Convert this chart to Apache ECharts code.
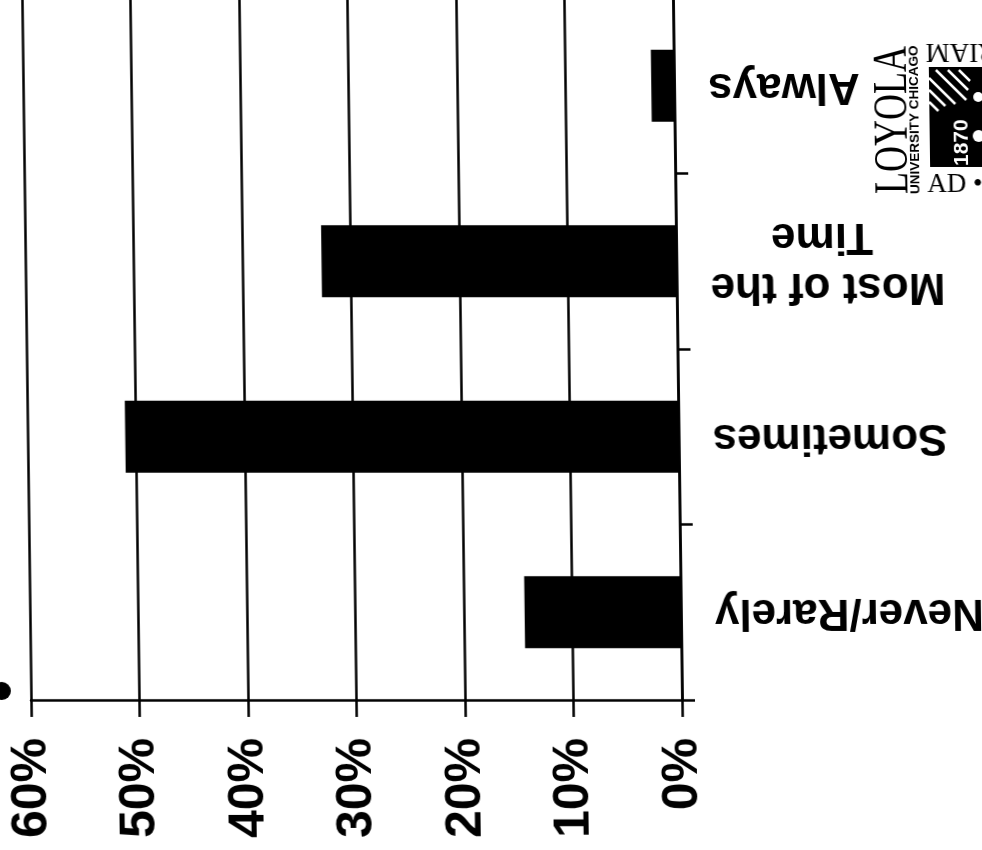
<!DOCTYPE html>
<html>
<head>
<meta charset="utf-8">
<style>
html,body{margin:0;padding:0;background:#fff;width:982px;height:850px;overflow:hidden}
#c{position:absolute;left:0;top:-10px;width:1000px;height:860px;transform-origin:0 710px;transform:skewX(0.74deg)}
</style>
<script src="https://cdn.jsdelivr.net/npm/echarts@6/dist/echarts.min.js"></script>
</head>
<body>
<div id="c"></div>
<script>
const categories = ['Never/Rarely', 'Sometimes', 'Most of the\nTime', 'Always'];
const shares = [14.4, 51.0, 32.7, 2.1];
const axisMin = 0;
const axisMax = 60;
const axisStep = 10;
const chart = echarts.init(document.getElementById('c'), null, {renderer: 'canvas'});
const ink = '#000';
const sans = '"Liberation Sans", Arial, sans-serif';
const serif = '"Liberation Serif", serif';
const hatch = [[937,78,963,104],[937,90,953,106],[937,102,946,111],[944,70,974,100],[956,70,976,90],[967,70,978,81]];
const logoText = (text, x, y, rot, font, fill, align, extra) => Object.assign({
  type: 'text', x, y, rotation: rot,
  style: {text, font, fill, textAlign: align, textVerticalAlign: 'middle'}
}, extra || {});
chart.setOption({
  animation: false,
  backgroundColor: '#fff',
  grid: {left: 31, width: 651, top: 8, height: 702, containLabel: false},
  xAxis: {
    type: 'value', inverse: true, min: axisMin, max: axisMax, interval: axisStep,
    axisLine: {show: true, lineStyle: {color: ink, width: 2.5}},
    axisTick: {show: true, length: 17, lineStyle: {color: ink, width: 2.5}},
    splitLine: {show: true, lineStyle: {color: ink, width: 2.5}},
    axisLabel: {rotate: 90, margin: 38, color: ink, fontFamily: sans, fontWeight: 'bold', fontSize: 50, padding: [6, 0, 0, 0], formatter: '{value}%'}
  },
  yAxis: {
    type: 'category', data: categories, position: 'right',
    axisLine: {show: true, lineStyle: {color: ink, width: 2.5}},
    axisTick: {show: true, length: 13, alignWithLabel: false, lineStyle: {color: ink, width: 2.5}},
    axisLabel: {rotate: 180, margin: 34, color: ink, fontFamily: sans, fontWeight: 'bold', fontSize: 44, lineHeight: 50, align: 'right', verticalAlign: 'middle',
      formatter: v => v.replace('Time', 'Time\u00a0\u00a0\u00a0\u00a0\u00a0')}
  },
  series: [{type: 'bar', data: shares, barWidth: 72, itemStyle: {color: ink}, silent: true}],
  graphic: [{
    type: 'group', x: 0, y: 10,
    children: [
      {type: 'circle', shape: {cx: 2, cy: 691, r: 9}, style: {fill: ink}},
      logoText('LOYOLA', 901, 194, Math.PI/2, '36px ' + serif, ink, 'left', {scaleY: 1.35}),
      logoText('UNIVERSITY CHICAGO', 922, 194, Math.PI/2, 'bold 13.5px ' + sans, ink, 'left'),
      logoText('AD •', 934, 185, 0, '27px ' + serif, ink, 'left'),
      logoText('RIAM', 934, 51, Math.PI, '27px ' + serif, ink, 'right'),
      {type: 'rect', shape: {x: 937, y: 67, width: 70, height: 100}, style: {fill: ink}},
      ...hatch.map(h => ({type: 'line', shape: {x1: h[0], y1: h[1], x2: h[2], y2: h[3]}, style: {stroke: '#fff', lineWidth: 2.5}})),
      {type: 'circle', shape: {cx: 986, cy: 97, r: 5}, style: {fill: '#fff'}},
      {type: 'circle', shape: {cx: 986, cy: 136, r: 6}, style: {fill: '#fff'}},
      logoText('1870', 969, 166, Math.PI/2, 'bold 21px ' + sans, '#fff', 'left')
    ]
  }]
});
</script>
</body>
</html>
